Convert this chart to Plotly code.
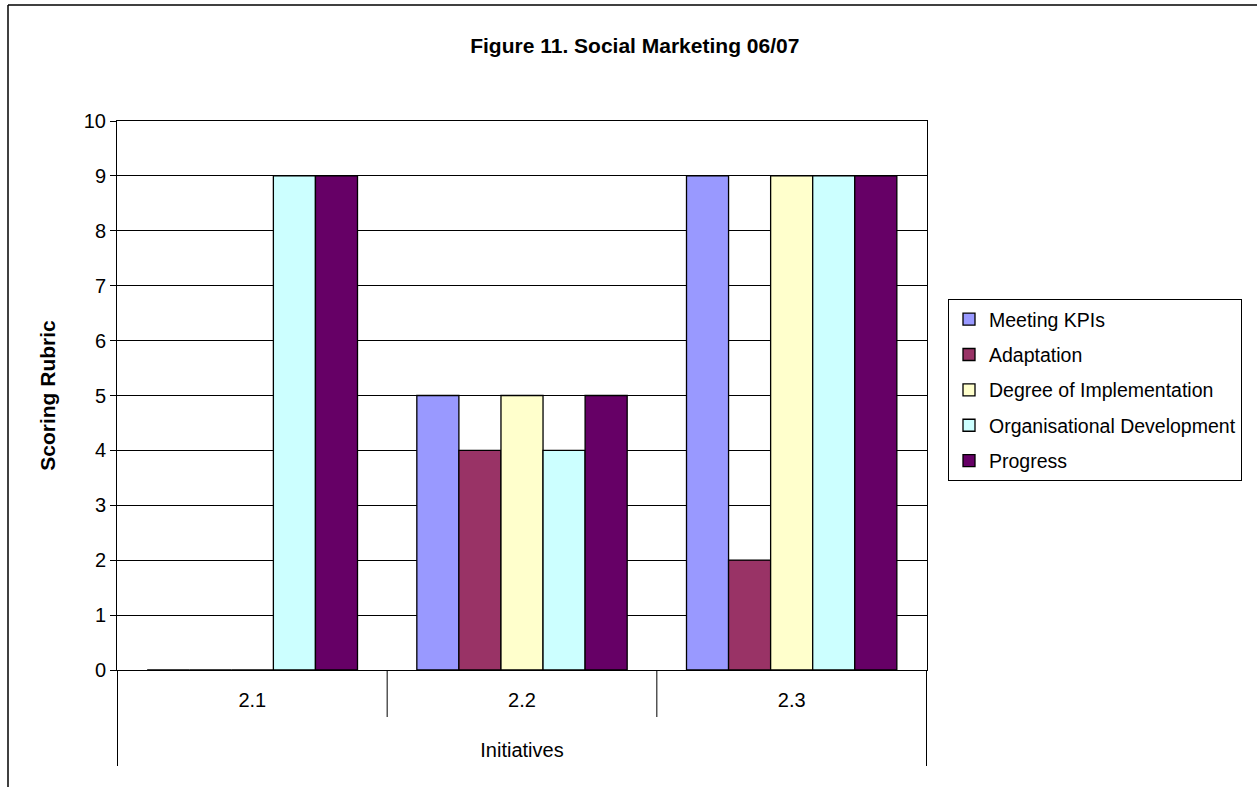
import plotly.graph_objects as go

categories = ["2.1", "2.2", "2.3"]
series_names = ["Meeting KPIs", "Adaptation", "Degree of Implementation",
                "Organisational Development", "Progress"]
meeting_kpis = [0, 5, 9]
adaptation = [0, 4, 2]
degree_impl = [0, 5, 9]
org_dev = [9, 4, 9]
progress = [9, 5, 9]
colors = ["#9999FF", "#993366", "#FFFFCC", "#CCFFFF", "#660066"]

values = [meeting_kpis, adaptation, degree_impl, org_dev, progress]
FONT = "Arial, Liberation Sans, sans-serif"

fig = go.Figure()
for i, (name, vals) in enumerate(zip(series_names, values)):
    fig.add_trace(go.Bar(
        x=categories, y=vals, name=name, legendgroup=name,
        marker=dict(color=colors[i], line=dict(color="black", width=1.3)),
    ))

L, R, T, B = 117, 927, 121, 670
W, H = 1257, 787
pw, ph = R - L, B - T

def px_x(p):
    return (p - L) / pw

def px_y(p):
    return (B - p) / ph

fig.update_layout(
    width=W, height=H,
    margin=dict(l=L, r=W - R, t=T, b=H - B, pad=0),
    paper_bgcolor="white", plot_bgcolor="white",
    font=dict(family=FONT, size=20, color="black"),
    barmode="group", bargap=0.22, bargroupgap=0,
    title=dict(text="<b>Figure 11. Social Marketing 06/07</b>",
               font=dict(size=21), x=0.505, xref="container",
               y=1 - 46 / H, yref="container", xanchor="center", yanchor="middle"),
    legend=dict(x=px_x(948), y=px_y(299), xanchor="left", yanchor="top",
                bordercolor="black", borderwidth=1, bgcolor="white",
                font=dict(size=19.5), traceorder="grouped", tracegroupgap=7,
                itemwidth=30),
    xaxis=dict(showline=True, linecolor="black", linewidth=1, mirror=True,
               ticks="", showgrid=False, ticklabelstandoff=12,
               title=dict(text="Initiatives", font=dict(size=20), standoff=32)),
    yaxis=dict(range=[0, 10], dtick=1, showline=True, linecolor="black",
               linewidth=1, mirror=True, ticks="outside", ticklen=6,
               tickcolor="black", showgrid=True, gridcolor="black", gridwidth=1,
               zeroline=False, tickfont=dict(size=20),
               title=dict(text="<b>Scoring Rubric</b>", font=dict(size=21), standoff=22)),
)

shapes = []
# category dividers below axis
for xv in [0.5, 1.5]:
    shapes.append(dict(type="line", xref="x", yref="paper", x0=xv, x1=xv,
                       y0=0, y1=px_y(717), line=dict(color="black", width=1)))
for xv in [-0.5, 2.5]:
    shapes.append(dict(type="line", xref="x", yref="paper", x0=xv, x1=xv,
                       y0=0, y1=px_y(766), line=dict(color="black", width=1)))
# outer chart frame (top and left visible)
shapes.append(dict(type="line", xref="paper", yref="paper", x0=px_x(8), x1=px_x(1260),
                   y0=px_y(5), y1=px_y(5), line=dict(color="black", width=1.5)))
shapes.append(dict(type="line", xref="paper", yref="paper", x0=px_x(8), x1=px_x(8),
                   y0=px_y(5), y1=px_y(790), line=dict(color="black", width=1.5)))
fig.update_layout(shapes=shapes)

fig.write_html("out.html")
